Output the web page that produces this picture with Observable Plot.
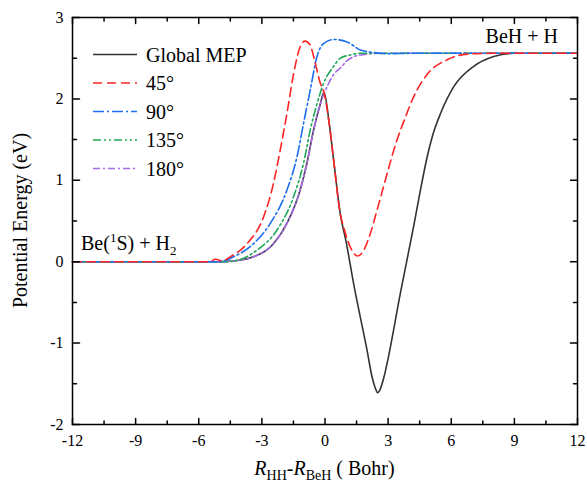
<!DOCTYPE html>
<html><head><meta charset="utf-8">
<script src="https://cdn.jsdelivr.net/npm/d3@7"></script>
<script src="https://cdn.jsdelivr.net/npm/@observablehq/plot@0.6"></script>
<style>body{margin:0;background:#fff} svg{display:block}</style>
</head><body><div id="chart"></div>
<script>
// ---- data ----
const seriesNames = ["Global MEP", "45°", "90°", "135°", "180°"];

const mepX = [-12,-5,-4,-3.4,-2.45,-1.81,-1.18,-0.86,-0.54,-0.22,-0.05,0.2,0.41,0.73,1.0,1.36,2.0,2.24,2.4,2.5,2.6,2.8,2.95,3.58,4.21,4.55,4.85,5.15,5.49,6.12,7.07,8.02,9.0,10,12];
const mepY = [0,0,0.02,0.06,0.22,0.47,0.88,1.21,1.62,1.94,2.08,1.70,1.25,0.58,0.25,-0.27,-1.09,-1.42,-1.56,-1.61,-1.58,-1.42,-1.25,-0.39,0.43,0.90,1.28,1.58,1.82,2.15,2.40,2.52,2.56,2.56,2.56];

const a45X = [-12,-5.5,-5.2,-4.9,-4.5,-3.71,-2.92,-2.45,-2.13,-1.81,-1.49,-1.18,-0.95,-0.70,-0.54,-0.22,-0.05,0.2,0.41,0.73,0.88,1.2,1.55,1.84,2.16,2.47,2.79,3.1,3.4,3.74,4.22,4.85,5.8,6.76,8,12];
const a45Y = [0,0,0.03,0.01,0.06,0.22,0.55,0.96,1.37,1.82,2.31,2.64,2.71,2.66,2.52,2.19,2.08,1.70,1.25,0.58,0.43,0.18,0.07,0.14,0.35,0.63,0.93,1.22,1.48,1.72,2.03,2.30,2.48,2.55,2.56,2.56];

const a90X = [-12,-5,-4.35,-3.40,-2.60,-1.81,-1.33,-1.02,-0.70,-0.38,-0.07,0.41,1.05,1.68,2.31,2.95,4,12];
const a90Y = [0,0,0.06,0.22,0.47,0.88,1.29,1.70,2.11,2.52,2.68,2.73,2.70,2.60,2.57,2.555,2.56,2.56];

const a135X = [-12,-4.7,-4,-3.24,-2.28,-1.49,-1.02,-0.70,-0.38,-0.07,0.41,0.73,1.2,1.6,2.5,12];
const a135Y = [0,0,0.03,0.14,0.39,0.80,1.21,1.62,1.94,2.19,2.40,2.50,2.54,2.56,2.56,2.56];

const a180X = [-12,-5,-4,-3.4,-2.45,-1.81,-1.18,-0.86,-0.54,-0.22,0.1,0.41,0.73,1.05,1.68,2.63,12];
const a180Y = [0,0,0.02,0.06,0.22,0.47,0.88,1.21,1.62,1.94,2.15,2.30,2.38,2.47,2.54,2.56,2.56];

const xTicks = [-12,-9,-6,-3,0,3,6,9,12];
const xMinorTicks = [-10.5,-7.5,-4.5,-1.5,1.5,4.5,7.5,10.5];
const yTicks = [-2,-1,0,1,2,3];
const yMinorTicks = [-1.5,-0.5,0.5,1.5,2.5];

// ---- styles ----
const styles = [
  {color: "#333333", dash: null},
  {color: "#ff2424", dash: "9,5"},
  {color: "#1c6ef0", dash: "11,3,2,3"},
  {color: "#22a85a", dash: "8,3,2,3,2,3"},
  {color: "#a46ae6", dash: "7,3,2,3"}
];
const xs = [mepX, a45X, a90X, a135X, a180X];
const ys = [mepY, a45Y, a90Y, a135Y, a180Y];
const drawOrder = [0, 4, 3, 2, 1];

const font = "'Times New Roman','Liberation Serif',serif";
const W = 587, H = 483, mL = 72, mR = 10, mT = 17, mB = 59;

const tickShape = {draw(ctx, l) { ctx.moveTo(0, 0); ctx.lineTo(0, -l); }};
function ticks(values, axis, side, len) {
  const rot = {bottom: 0, top: 180, left: 90, right: -90}[side];
  const opts = {frameAnchor: side, length: len, rotate: rot, anchor: "start", shape: tickShape, stroke: "#000", strokeWidth: 1.5};
  if (axis === "x") opts.x = d => d; else opts.y = d => d;
  return Plot.vector(values, opts);
}

const marks = [];
for (const i of drawOrder) {
  const data = xs[i].map((x, k) => ({x, y: ys[i][k]}));
  marks.push(Plot.line(data, {x: "x", y: "y", stroke: styles[i].color, strokeWidth: 1.6,
    strokeDasharray: styles[i].dash, curve: "monotone-x"}));
}
marks.push(
  ticks(xTicks, "x", "bottom", 6), ticks(xMinorTicks, "x", "bottom", 3.5),
  ticks(xTicks, "x", "top", 6), ticks(xMinorTicks, "x", "top", 3.5),
  ticks(yTicks, "y", "left", 7), ticks(yMinorTicks, "y", "left", 4),
  ticks(yTicks, "y", "right", 7), ticks(yMinorTicks, "y", "right", 4),
  Plot.axisX(xTicks, {anchor: "bottom", tickSize: 0, tickPadding: 10, label: null, tickFormat: d => String(d), fontSize: 16}),
  Plot.axisY(yTicks, {anchor: "left", tickSize: 0, tickPadding: 9, label: null, tickFormat: d => String(d), fontSize: 16}),
  Plot.frame({stroke: "#000", strokeWidth: 1.5})
);

const plot = Plot.plot({
  width: W, height: H, marginLeft: mL, marginRight: mR, marginTop: mT, marginBottom: mB,
  style: {fontFamily: font, fontSize: "16px", color: "#000", background: "#fff"},
  x: {domain: [-12, 12]},
  y: {domain: [-2, 3]},
  marks
});
document.getElementById("chart").appendChild(plot);

// ---- labels, annotations, legend ----
const svg = d3.select(plot);
const g = svg.append("g").attr("font-family", font).attr("fill", "#000").attr("text-anchor", "start");

// y-axis label
g.append("text").attr("transform", `translate(27,${mT + (H - mT - mB) / 2}) rotate(-90)`)
  .attr("text-anchor", "middle").attr("font-size", 20).text("Potential Energy (eV)");

// x-axis label with italic R and subscripts
const xl = g.append("text").attr("x", mL + (W - mL - mR) / 2).attr("y", 475)
  .attr("text-anchor", "middle").attr("font-size", 20);
xl.append("tspan").attr("font-style", "italic").text("R");
xl.append("tspan").attr("font-size", 14).attr("dy", 5).text("HH");
xl.append("tspan").attr("dy", -5).text("-");
xl.append("tspan").attr("font-style", "italic").text("R");
xl.append("tspan").attr("font-size", 14).attr("dy", 5).text("BeH");
xl.append("tspan").attr("dy", -5).text(" ( Bohr)");

// annotations
g.append("text").attr("x", W - mR - 19).attr("y", 43).attr("text-anchor", "end")
  .attr("font-size", 20).text("BeH + H");
const an = g.append("text").attr("x", mL + 9).attr("y", 250).attr("text-anchor", "start").attr("font-size", 20);
an.append("tspan").text("Be(");
an.append("tspan").attr("font-size", 13).attr("dy", -8).text("1");
an.append("tspan").attr("dy", 8).text("S) + H");
an.append("tspan").attr("font-size", 13).attr("dy", 5).text("2");

// legend
const lg = g.append("g");
seriesNames.forEach((name, i) => {
  const cy = 54.5 + i * 28.5;
  lg.append("line").attr("x1", 93).attr("x2", 137).attr("y1", cy).attr("y2", cy)
    .attr("stroke", styles[i].color).attr("stroke-width", 1.6)
    .attr("stroke-dasharray", styles[i].dash);
  lg.append("text").attr("x", 146).attr("y", cy + 7).attr("text-anchor", "start").attr("font-size", 20).text(name);
});
</script>
</body></html>
